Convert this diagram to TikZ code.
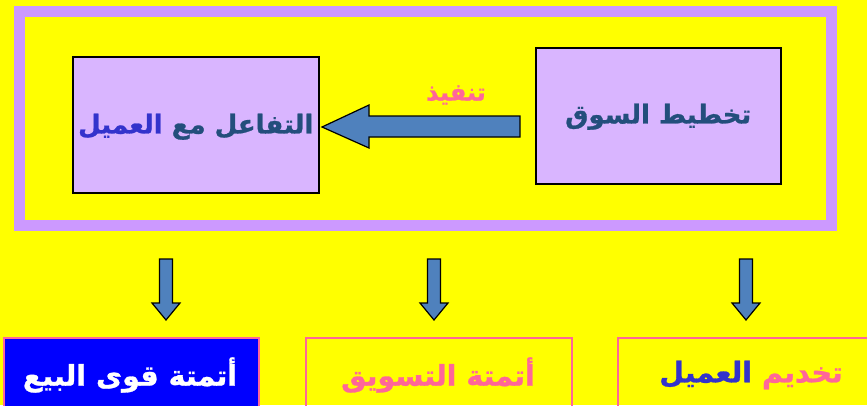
\documentclass[tikz,border=0pt]{standalone}
\usepackage{fontspec}
\TeXXeTstate=1
\newfontfamily\arabicfont[Script=Arabic,BoldFeatures={FakeBold=1}]{DejaVu Sans}
\definecolor{bgyellow}{HTML}{FFFF00}
\definecolor{framepurple}{HTML}{CC99FF}
\definecolor{boxlav}{HTML}{D9B5FF}
\definecolor{arrowblue}{HTML}{4F81BD}
\definecolor{darktext}{HTML}{234E7C}
\definecolor{bluetext}{HTML}{3333CC}
\definecolor{pinktext}{HTML}{FF6699}
\definecolor{salesblue}{HTML}{0000FF}
\newcommand{\rw}[2]{{\color{#1}\beginR #2\endR}}
\begin{document}
\begin{tikzpicture}[x=1pt,y=-1pt,
  topbox/.style={draw=black,line width=1.5pt,fill=boxlav,anchor=north west,inner sep=0pt},
  botbox/.style={draw=pinktext,line width=1.5pt,anchor=north west,inner sep=0pt},
  blockarrow/.style={draw=black,line width=1.2pt,fill=arrowblue,line join=miter},
  lbl/.style={font=\arabicfont\bfseries\fontsize{26}{30}\selectfont},
  blbl/.style={font=\arabicfont\bfseries\fontsize{28.5}{32}\selectfont}]
\useasboundingbox (0,0) rectangle (867,405);
\clip (0,0) rectangle (867,405);
\fill[bgyellow] (0,0) rectangle (867,405);
% frame
\draw[framepurple,line width=11pt] (19.3,11) rectangle (831,225.5);
% top boxes
\node[topbox,minimum width=246pt,minimum height=136pt] (interact) at (72,56) {};
\node[topbox,minimum width=245pt,minimum height=136pt] (plan) at (535,47) {};
\node[lbl] at ([yshift=-2pt]interact.center) {\rw{bluetext}{العميل} \rw{darktext}{التفاعل مع}};
\node[lbl,text=darktext] at ([yshift=-1pt]plan.center) {\beginR تخطيط السوق\endR};
% main arrow
\draw[blockarrow] (520,116) -- (369,116) -- (369,105) -- (322,127) -- (369,148) -- (369,137) -- (520,137) -- cycle;
\node[text=pinktext,font=\arabicfont\bfseries\fontsize{24}{28}\selectfont] (exec) at (456,95) {\beginR تنفيذ\endR};
% down arrows
\foreach \x in {166,434,746}{
  \draw[blockarrow] (\x-6.5,259) -- (\x+6.5,259) -- (\x+6.5,303) -- (\x+14,303) -- (\x,320) -- (\x-14,303) -- (\x-6.5,303) -- cycle;
}
% bottom boxes
\node[botbox,fill=salesblue,minimum width=255pt,minimum height=80pt] (sales) at (3,337) {};
\node[botbox,minimum width=266pt,minimum height=80pt] (mkt) at (305,337) {};
\node[botbox,minimum width=260pt,minimum height=80pt] (serve) at (617,337) {};
\node[blbl,text=white] at (130,375) {\beginR أتمتة قوى البيع\endR};
\node[blbl,text=pinktext] at (438,375) {\beginR أتمتة التسويق\endR};
\node[blbl] at (751,375) {\rw{bluetext}{العميل} \rw{pinktext}{تخديم}};
\end{tikzpicture}
\end{document}
